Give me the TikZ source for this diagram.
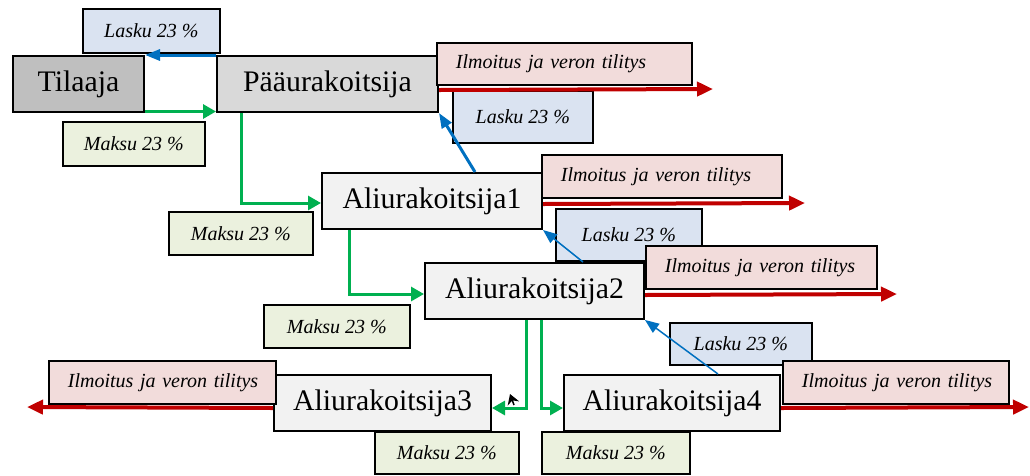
\documentclass[tikz,border=0pt]{standalone}
\usepackage{fontspec}
\setmainfont{Liberation Serif}
\usetikzlibrary{arrows.meta,calc}

\definecolor{clientF}{HTML}{BFBFBF}
\definecolor{mainF}{HTML}{D9D9D9}
\definecolor{subF}{HTML}{F2F2F2}
\definecolor{invoiceF}{HTML}{DAE3F1}
\definecolor{paymentF}{HTML}{EBF1DE}
\definecolor{reportF}{HTML}{F2DCDB}
\definecolor{payG}{HTML}{00B050}
\definecolor{taxR}{HTML}{C00000}
\definecolor{billB}{HTML}{0070C0}

\newcommand{\reporttext}{\hspace*{14pt}Ilmoitus ja veron tilitys}

\begin{document}
\begin{tikzpicture}[x=1pt,y=-1pt,
  party/.style={draw=black, line width=2pt, inner sep=0pt, anchor=north west,
    font=\fontsize{29.8}{34}\selectfont},
  tag/.style={draw=black, line width=1.8pt, inner sep=0pt, anchor=north west,
    font=\fontsize{20}{24}\selectfont\itshape},
  invoice/.style={tag, fill=invoiceF},
  payment/.style={tag, fill=paymentF},
  report/.style={tag, fill=reportF, align=left, inner xsep=5pt},
  pay/.style={draw=payG, line width=3pt, -{Triangle[length=13pt,width=14pt]}},
  tax/.style={draw=taxR, line width=4pt, -{Triangle[length=16pt,width=14pt]}},
  bill/.style={draw=billB, line width=3pt, -{Triangle[length=15pt,width=11pt]}},
  billthin/.style={draw=billB, line width=1.5pt, -{Triangle[length=14pt,width=11pt]}}]

\useasboundingbox (0,0) rectangle (1030,475);

% invoice tags (behind the parties)
\node[invoice, minimum width=137pt, minimum height=44pt] (L1) at (82,8) {Lasku 23 \%};
\node[invoice, minimum width=140pt, minimum height=52pt] (L2) at (452,90) {Lasku 23 \%};
\node[invoice, minimum width=146pt, minimum height=52pt] (L3) at (555,208) {\raisebox{1pt}{Lasku 23 \%}};
\node[invoice, minimum width=142pt, minimum height=42pt] (L4) at (669,322) {Lasku 23 \%};

% parties
\node[party, fill=clientF, minimum width=131pt, minimum height=56pt] (ti) at (12,55) {Tilaaja};
\node[party, fill=mainF, minimum width=221pt, minimum height=56pt] (pa) at (216,55) {Pääurakoitsija};
\node[party, fill=subF, minimum width=220pt, minimum height=56pt] (a1) at (321,172) {Aliurakoitsija1};
\node[party, fill=subF, minimum width=219pt, minimum height=56pt] (a2) at (424,262) {Aliurakoitsija2};
\node[party, fill=subF, minimum width=217pt, minimum height=56pt] (a3) at (273,374) {Aliurakoitsija3};
\node[party, fill=subF, minimum width=216pt, minimum height=56pt] (a4) at (563,374) {Aliurakoitsija4};

% tax report tags
\node[report, text width=245pt, minimum height=42pt] (I1) at (436,42) {\reporttext};
\node[report, text width=230pt, minimum height=43pt] (I2) at (541,154) {\reporttext};
\node[report, text width=221pt, minimum height=43pt] (I3) at (645,245) {\reporttext};
\node[report, text width=217pt, minimum height=43pt] (I4) at (48,360) {\reporttext};
\node[report, text width=216pt, minimum height=43pt] (I5) at (782,360) {\reporttext};

% payment tags
\node[payment, minimum width=142pt, minimum height=44pt] (M1) at (62,121) {Maksu 23 \%};
\node[payment, minimum width=144pt, minimum height=43pt] (M2) at (168,211) {Maksu 23 \%};
\node[payment, minimum width=146pt, minimum height=43pt] (M3) at (263,304) {Maksu 23 \%};
\node[payment, minimum width=144pt, minimum height=42pt] (M4) at (374,431) {Maksu 23 \%};
\node[payment, minimum width=148pt, minimum height=42pt] (M5) at (541,431) {Maksu 23 \%};

% free ends of the tax arrows
\coordinate (t1) at (713,89);
\coordinate (t2) at (805,203);
\coordinate (t3) at (897,294);
\coordinate (t4) at (27,407);
\coordinate (t5) at (1029,407);

% payments
\draw[pay] ($(ti.south east)+(0,-1.5)$) -- ($(pa.south west)+(0,-1.5)$);
\draw[pay] ($(pa.south west)+(25,0)$) |- ($(a1.west)+(0,2)$);
\draw[pay] ($(a1.south west)+(28,0)$) |- ($(a2.west)+(0,3)$);
\draw[pay] ($(a2.south west)+(102,0)$) |- ($(a3.east)+(0,5)$);
\draw[pay] ($(a2.south west)+(117,0)$) |- ($(a4.west)+(0,5)$);

% tax reports
\draw[tax] ($(pa.east)+(0,6)$) -- (t1);
\draw[tax] ($(a1.east)+(0,3)$) -- (t2);
\draw[tax] ($(a2.east)+(0,4)$) -- (t3);
\draw[tax] ($(a3.west)+(0,5)$) -- (t4);
\draw[tax] ($(a4.east)+(0,5)$) -- (t5);

% invoices
\draw[bill] (pa.north west) -- (ti.north east);
\draw[bill] ($(a1.north west)+(154,0)$) -- (pa.south east);
\draw[billthin] ($(a2.north west)+(159,0)$) -- (a1.south east);
\draw[billthin] ($(a4.north west)+(155,0)$) -- (a2.south east);

% small black tip beside Aliurakoitsija3
\coordinate (k1) at (514,405);
\coordinate (k2) at (510,394);
\draw[black, line width=1.5pt, -{Stealth[length=10pt,width=12pt]}] (k1) -- (k2);

\end{tikzpicture}
\end{document}
